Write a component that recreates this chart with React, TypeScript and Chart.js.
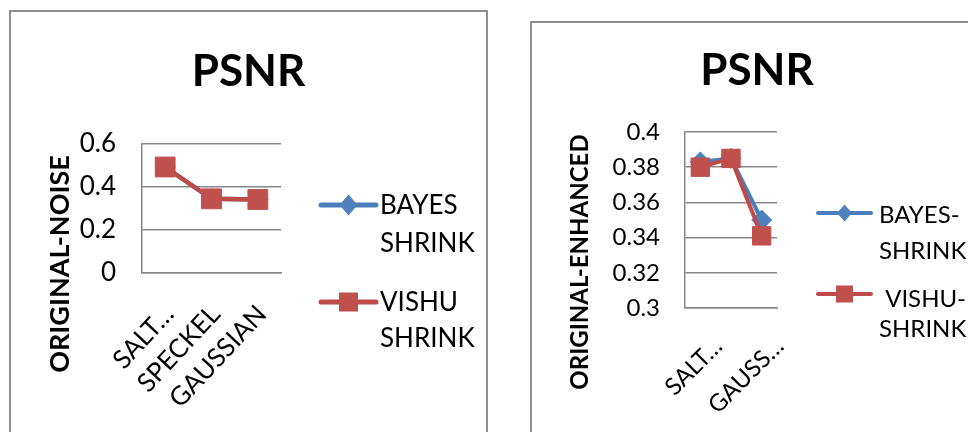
import React, { useEffect, useRef } from 'react';
import { Chart, registerables } from 'chart.js';

Chart.register(...registerables);

// ---------- data ----------
const CHART_TITLE = 'PSNR';
const CATEGORIES = ['SALT & PEPPER', 'SPECKEL', 'GAUSSIAN'];
const SERIES_NAMES = ['BAYES SHRINK', 'VISHU SHRINK'];

// left chart: ORIGINAL-NOISE
const NOISE_Y_TITLE = 'ORIGINAL-NOISE';
const NOISE_TICK_LABELS = ['SALT…', 'SPECKEL', 'GAUSSIAN'];
const NOISE_BAYES = [0.493, 0.345, 0.342];
const NOISE_VISHU = [0.493, 0.345, 0.342];
const NOISE_LEGEND = [['BAYES', 'SHRINK'], ['VISHU', 'SHRINK']];
const NOISE_Y_MIN = 0;
const NOISE_Y_MAX = 0.6;
const NOISE_Y_STEP = 0.2;

// right chart: ORIGINAL-ENHANCED
const ENH_Y_TITLE = 'ORIGINAL-ENHANCED';
const ENH_TICK_LABELS = ['SALT…', '', 'GAUSS…'];
const ENH_BAYES = [0.383, 0.385, 0.35];
const ENH_VISHU = [0.38, 0.385, 0.341];
const ENH_LEGEND = [['BAYES-', 'SHRINK'], [' VISHU-', 'SHRINK']];
const ENH_Y_MIN = 0.3;
const ENH_Y_MAX = 0.4;
const ENH_Y_STEP = 0.02;

// ---------- styles ----------
const FONT = 'Lato';
const GRID = '#878787';
const BLUE_LINE = '#4a7ebb';
const BLUE_MARK = '#4f81bd';
const RED_LINE = '#be4b48';
const RED_MARK = '#c0504d';

type Spec = {
  w: number; h: number;
  yTitle: string; tickLabels: string[];
  bayes: number[]; vishu: number[]; legend: string[][];
  yMin: number; yMax: number; yStep: number;
  yAxisW: number; rightW: number; xAxisH: number;
  titlePadTop: number; titlePadBottom: number; titleSize: number;
  yTickSize: number; yTickPad: number; xTickSize: number; xTickPad: number; xRot: number; xLabelOffset: number;
  yTitleX: number; yTitleY: number; yTitleSize: number;
  lineW: number; diamondR: number; squareR: number;
  lgX0: number; lgX1: number; lgTextX: number; lgLineY: number[]; lgTextY: number[]; lgGap: number[];
  lgSize: number; lgLineW: number; lgDiamondW: number; lgDiamondH: number; lgSquare: number;
};

const decorPlugin = (s: Spec) => ({
  id: 'decor',
  afterDraw(chart: any) {
    const ctx: CanvasRenderingContext2D = chart.ctx;
    // axis title
    ctx.save();
    ctx.translate(s.yTitleX, s.yTitleY);
    ctx.rotate(-Math.PI / 2);
    ctx.font = `bold ${s.yTitleSize}px ${FONT}`;
    ctx.fillStyle = '#000';
    ctx.textAlign = 'center';
    ctx.textBaseline = 'middle';
    ctx.fillText(s.yTitle, 0, 0);
    ctx.restore();
    // legend
    chart.data.datasets.forEach((ds: any, i: number) => {
      const y = s.lgLineY[i];
      ctx.save();
      ctx.strokeStyle = ds.borderColor;
      ctx.lineWidth = s.lgLineW;
      ctx.lineCap = 'round';
      ctx.beginPath();
      ctx.moveTo(s.lgX0, y);
      ctx.lineTo(s.lgX1, y);
      ctx.stroke();
      const cx = (s.lgX0 + s.lgX1) / 2;
      ctx.fillStyle = ds.pointBackgroundColor;
      if (ds.pointStyle === 'rect') {
        const q = s.lgSquare;
        ctx.fillRect(cx - q / 2, y - q / 2, q, q);
      } else {
        const hw = s.lgDiamondW / 2, hh = s.lgDiamondH / 2;
        ctx.beginPath();
        ctx.moveTo(cx, y - hh);
        ctx.lineTo(cx + hw, y);
        ctx.lineTo(cx, y + hh);
        ctx.lineTo(cx - hw, y);
        ctx.closePath();
        ctx.fill();
      }
      ctx.font = `${s.lgSize}px ${FONT}`;
      ctx.fillStyle = '#000';
      ctx.textAlign = 'left';
      ctx.textBaseline = 'middle';
      s.legend[i].forEach((line, j) => ctx.fillText(line, s.lgTextX, s.lgTextY[i] + j * s.lgGap[i]));
      ctx.restore();
    });
  },
});

function PsnrChart({ spec }: { spec: Spec }) {
  const ref = useRef<HTMLCanvasElement>(null);
  useEffect(() => {
    const s = spec;
    const chart = new Chart(ref.current as HTMLCanvasElement, {
      type: 'line',
      data: {
        labels: CATEGORIES,
        datasets: [
          {
            label: SERIES_NAMES[0], data: s.bayes, yAxisID: 'y', order: 1,
            borderColor: BLUE_LINE, backgroundColor: BLUE_MARK,
            pointBackgroundColor: BLUE_MARK, pointBorderColor: BLUE_MARK,
            pointStyle: 'rectRot', pointRadius: s.diamondR, pointBorderWidth: 1,
            borderWidth: s.lineW, tension: 0,
          },
          {
            label: SERIES_NAMES[1], data: s.vishu, yAxisID: 'y', order: 0,
            borderColor: RED_LINE, backgroundColor: RED_MARK,
            pointBackgroundColor: RED_MARK, pointBorderColor: RED_MARK,
            pointStyle: 'rect', pointRadius: s.squareR, pointBorderWidth: 1,
            borderWidth: s.lineW, tension: 0,
          },
        ],
      } as any,
      options: {
        responsive: false,
        animation: false,
        devicePixelRatio: 1,
        layout: { padding: 0 },
        plugins: {
          legend: { display: false },
          tooltip: { enabled: false },
          title: {
            display: true, text: CHART_TITLE, color: '#000',
            font: { family: FONT, size: s.titleSize, weight: 'bold' },
            padding: { top: s.titlePadTop, bottom: s.titlePadBottom },
          },
        },
        scales: {
          x: {
            type: 'category', offset: true,
            grid: { display: false, drawTicks: false },
            border: { display: true, color: GRID, width: 1.5 },
            ticks: {
              autoSkip: false, minRotation: s.xRot, maxRotation: s.xRot,
              padding: s.xTickPad, labelOffset: s.xLabelOffset, color: '#000',
              font: { family: FONT, size: s.xTickSize },
              callback: (_v: any, i: number) => s.tickLabels[i],
            },
            afterFit: (sc: any) => { sc.height = s.xAxisH; },
          },
          y: {
            type: 'linear', position: 'left', min: s.yMin, max: s.yMax,
            grid: { color: GRID, lineWidth: 1.5, drawTicks: false },
            border: { display: true, color: GRID, width: 1.5 },
            ticks: {
              stepSize: s.yStep, padding: s.yTickPad, color: '#000',
              font: { family: FONT, size: s.yTickSize },
              callback: (v: any) => String(Number(Number(v).toFixed(2))),
            },
            afterFit: (sc: any) => { sc.width = s.yAxisW; },
          },
          legendSpace: {
            type: 'linear', position: 'right', display: true,
            grid: { display: false, drawTicks: false },
            border: { display: false },
            ticks: { display: false },
            afterFit: (sc: any) => { sc.width = s.rightW; },
          },
        },
      } as any,
      plugins: [decorPlugin(s)],
    });
    return () => chart.destroy();
  }, [spec]);
  return <canvas ref={ref} width={spec.w} height={spec.h} style={{ display: 'block' }} />;
}

const NOISE_SPEC: Spec = {
  w: 475, h: 440,
  yTitle: NOISE_Y_TITLE, tickLabels: NOISE_TICK_LABELS,
  bayes: NOISE_BAYES, vishu: NOISE_VISHU, legend: NOISE_LEGEND,
  yMin: NOISE_Y_MIN, yMax: NOISE_Y_MAX, yStep: NOISE_Y_STEP,
  yAxisW: 131, rightW: 205, xAxisH: 179,
  titlePadTop: 33.6, titlePadBottom: 45.6, titleSize: 44,
  yTickSize: 26, yTickPad: 26, xTickSize: 26, xTickPad: 26, xRot: 47, xLabelOffset: 4,
  yTitleX: 49, yTitleY: 252, yTitleSize: 27,
  lineW: 4.5, diamondR: 10, squareR: 14,
  lgX0: 310, lgX1: 365, lgTextX: 369, lgLineY: [193, 290], lgTextY: [194, 290.5], lgGap: [38, 36.5],
  lgSize: 26, lgLineW: 5, lgDiamondW: 18, lgDiamondH: 21, lgSquare: 19,
};

const ENH_SPEC: Spec = {
  w: 450, h: 440,
  yTitle: ENH_Y_TITLE, tickLabels: ENH_TICK_LABELS,
  bayes: ENH_BAYES, vishu: ENH_VISHU, legend: ENH_LEGEND,
  yMin: ENH_Y_MIN, yMax: ENH_Y_MAX, yStep: ENH_Y_STEP,
  yAxisW: 153, rightW: 205, xAxisH: 155,
  titlePadTop: 21.6, titlePadBottom: 34.6, titleSize: 44,
  yTickSize: 24, yTickPad: 25, xTickSize: 24, xTickPad: 24, xRot: 45, xLabelOffset: 18,
  yTitleX: 48, yTitleY: 239, yTitleSize: 24,
  lineW: 4, diamondR: 10, squareR: 13,
  lgX0: 286, lgX1: 339, lgTextX: 347, lgLineY: [190, 271], lgTextY: [192, 276], lgGap: [36, 30],
  lgSize: 24, lgLineW: 4, lgDiamondW: 15, lgDiamondH: 17, lgSquare: 17,
};

export default function App() {
  const box = (left: number, top: number, w: number): React.CSSProperties => ({
    position: 'absolute', left, top, width: w, height: 440,
    border: '2px solid #8f8f8f', background: '#fff',
  });
  return (
    <div style={{ position: 'fixed', left: 0, top: 0, width: 968, height: 432, overflow: 'hidden', background: '#fff' }}>
      <div style={box(9, 10, 475)}>
        <PsnrChart spec={NOISE_SPEC} />
      </div>
      <div style={box(530, 21, 450)}>
        <PsnrChart spec={ENH_SPEC} />
      </div>
    </div>
  );
}
